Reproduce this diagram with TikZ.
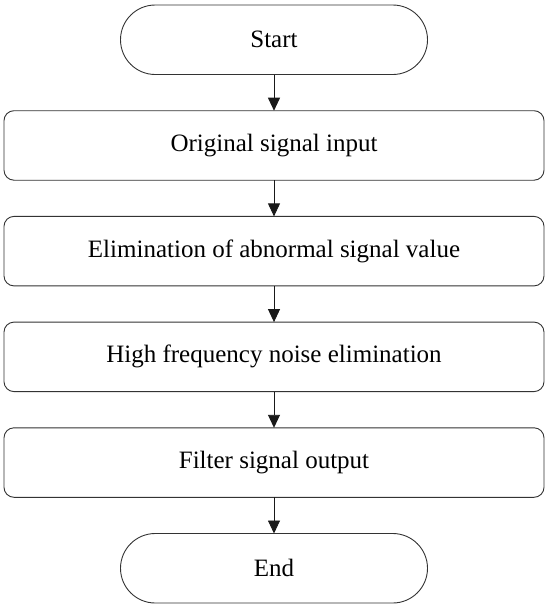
\documentclass[tikz,border=0pt]{standalone}
\usepackage{fontspec}
\setmainfont{Liberation Serif}
\usetikzlibrary{arrows.meta,positioning}

\begin{document}
\begin{tikzpicture}[
    node distance=36.2pt,
    base/.style={draw=black!80, line width=0.9pt, minimum height=69.5pt, inner sep=2pt, outer sep=0pt, align=center, font=\fontsize{25}{30}\selectfont},
    term/.style={base, minimum width=307pt, rounded corners=34.75pt},
    proc/.style={base, minimum width=540pt, rounded corners=10pt},
    flow/.style={-{Triangle[length=13pt,width=12pt]}, line width=0.9pt, draw=black!90}]
  \useasboundingbox (0,0) rectangle (550pt,-608pt);
  \node[term] (start) at (274pt,-39.75pt) {Start};
  \node[proc, below=of start] (input) {Original signal input};
  \node[proc, below=of input] (abnorm) {Elimination of abnormal signal value};
  \node[proc, below=of abnorm] (noise) {High frequency noise elimination};
  \node[proc, below=of noise] (output) {Filter signal output};
  \node[term, below=of output] (end) {End};
  \draw[flow] (start) -- (input);
  \draw[flow] (input) -- (abnorm);
  \draw[flow] (abnorm) -- (noise);
  \draw[flow] (noise) -- (output);
  \draw[flow] (output) -- (end);
\end{tikzpicture}
\end{document}
